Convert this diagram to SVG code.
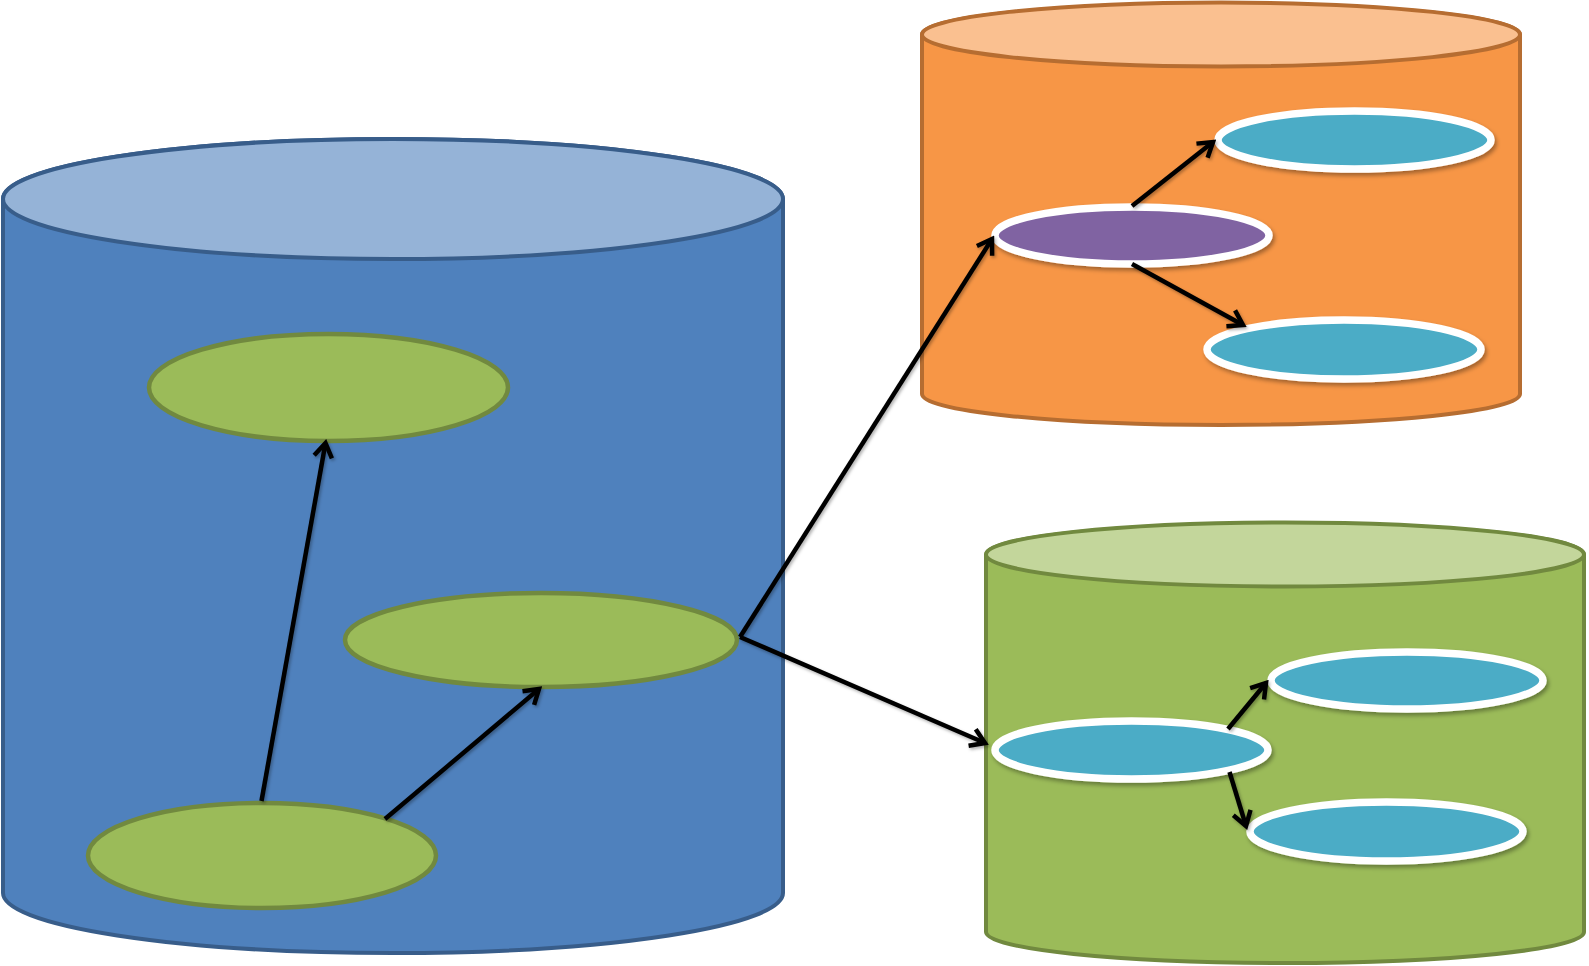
<svg xmlns="http://www.w3.org/2000/svg" width="1589" height="966" viewBox="0 0 1589 966">
  <style>
    .blue-body { fill: #4F81BD; stroke: #385D8A; stroke-width: 4; }
    .blue-top { fill: #95B3D7; stroke: #385D8A; stroke-width: 4; }
    .orange-body { fill: #F79646; stroke: #B66D31; stroke-width: 4; }
    .orange-top { fill: #FAC090; stroke: #B66D31; stroke-width: 4; }
    .green-body { fill: #9BBB59; stroke: #71893F; stroke-width: 4; }
    .green-top { fill: #C3D69B; stroke: #71893F; stroke-width: 4; }
    .leaf { fill: #9BBB59; stroke: #71893F; stroke-width: 4.5; }
    .item { fill: #4BACC6; stroke: #FFFFFF; stroke-width: 7.5; filter: url(#soft-shadow); }
    .item-key { fill: #8064A2; stroke: #FFFFFF; stroke-width: 7.5; filter: url(#soft-shadow); }
    .link { fill: none; stroke: #000000; stroke-width: 4.5; marker-end: url(#open-arrow); }
  </style>
  <defs>
    <filter id="soft-shadow" x="-10%" y="-30%" width="125%" height="170%">
      <feDropShadow dx="2" dy="3" stdDeviation="2" flood-color="#000000" flood-opacity="0.35"/>
    </filter>
    <filter id="line-shadow" x="-10%" y="-10%" width="120%" height="120%">
      <feDropShadow dx="1.5" dy="2" stdDeviation="1.5" flood-color="#000000" flood-opacity="0.3"/>
    </filter>
    <marker id="open-arrow" markerUnits="userSpaceOnUse" viewBox="-18 -13 22 26" refX="0" refY="0" markerWidth="22" markerHeight="26" orient="auto">
      <path d="M-14,-9 L0,0 L-14,9" fill="none" stroke="#000000" stroke-width="4.5" stroke-linejoin="miter" stroke-linecap="butt"/>
    </marker>
  </defs>

  <!-- main store with three entries -->
  <g id="store-main">
    <path class="blue-body" d="M3,199 L3,893 A390,60 0 0 0 783,893 L783,199 A390,60 0 0 0 3,199 Z"/>
    <ellipse class="blue-top" cx="393" cy="199" rx="390" ry="60"/>
  </g>

  <!-- orange store -->
  <g id="store-orange">
    <path class="orange-body" d="M922,34.5 L922,394 A299,31 0 0 0 1520,394 L1520,34.5 A299,31 0 0 0 922,34.5 Z"/>
    <ellipse class="orange-top" cx="1221" cy="34.5" rx="299" ry="32"/>
  </g>

  <!-- green store -->
  <g id="store-green">
    <path class="green-body" d="M986,554.5 L986,932 A299,31 0 0 0 1584,932 L1584,554.5 A299,31 0 0 0 986,554.5 Z"/>
    <ellipse class="green-top" cx="1285" cy="554.5" rx="299" ry="32"/>
  </g>

  <!-- entries inside the main store -->
  <g id="node-upper">
    <ellipse class="leaf" cx="328.5" cy="387.5" rx="179.5" ry="53.5"/>
  </g>
  <g id="node-middle">
    <ellipse class="leaf" cx="541" cy="640" rx="196" ry="47"/>
  </g>
  <g id="node-lower">
    <ellipse class="leaf" cx="262" cy="855.5" rx="174" ry="52.5"/>
  </g>

  <!-- entries inside the orange store -->
  <g id="node-orange-root">
    <ellipse class="item-key" cx="1132" cy="235.5" rx="137" ry="28.5"/>
  </g>
  <g id="node-orange-top">
    <ellipse class="item" cx="1354.5" cy="140" rx="136.5" ry="29"/>
  </g>
  <g id="node-orange-bottom">
    <ellipse class="item" cx="1344" cy="349.5" rx="137" ry="29.5"/>
  </g>

  <!-- entries inside the green store -->
  <g id="node-green-root">
    <ellipse class="item" cx="1131.5" cy="750" rx="136.5" ry="29"/>
  </g>
  <g id="node-green-top">
    <ellipse class="item" cx="1407" cy="680.5" rx="136" ry="28.5"/>
  </g>
  <g id="node-green-bottom">
    <ellipse class="item" cx="1386.5" cy="831.5" rx="136.5" ry="29.5"/>
  </g>

  <!-- connectors -->
  <g id="connectors" filter="url(#line-shadow)">
    <line class="link" x1="261.5" y1="801" x2="325.5" y2="443"/>
    <line class="link" x1="385" y1="819" x2="539" y2="689"/>
    <line class="link" x1="740" y1="637" x2="992" y2="239"/>
    <line class="link" x1="740" y1="637" x2="985" y2="743"/>
    <line class="link" x1="1132" y1="206" x2="1213" y2="142"/>
    <line class="link" x1="1132" y1="264" x2="1243" y2="325"/>
    <line class="link" x1="1228" y1="729" x2="1266" y2="683"/>
    <line class="link" x1="1229.5" y1="772" x2="1246" y2="826"/>
  </g>
</svg>
